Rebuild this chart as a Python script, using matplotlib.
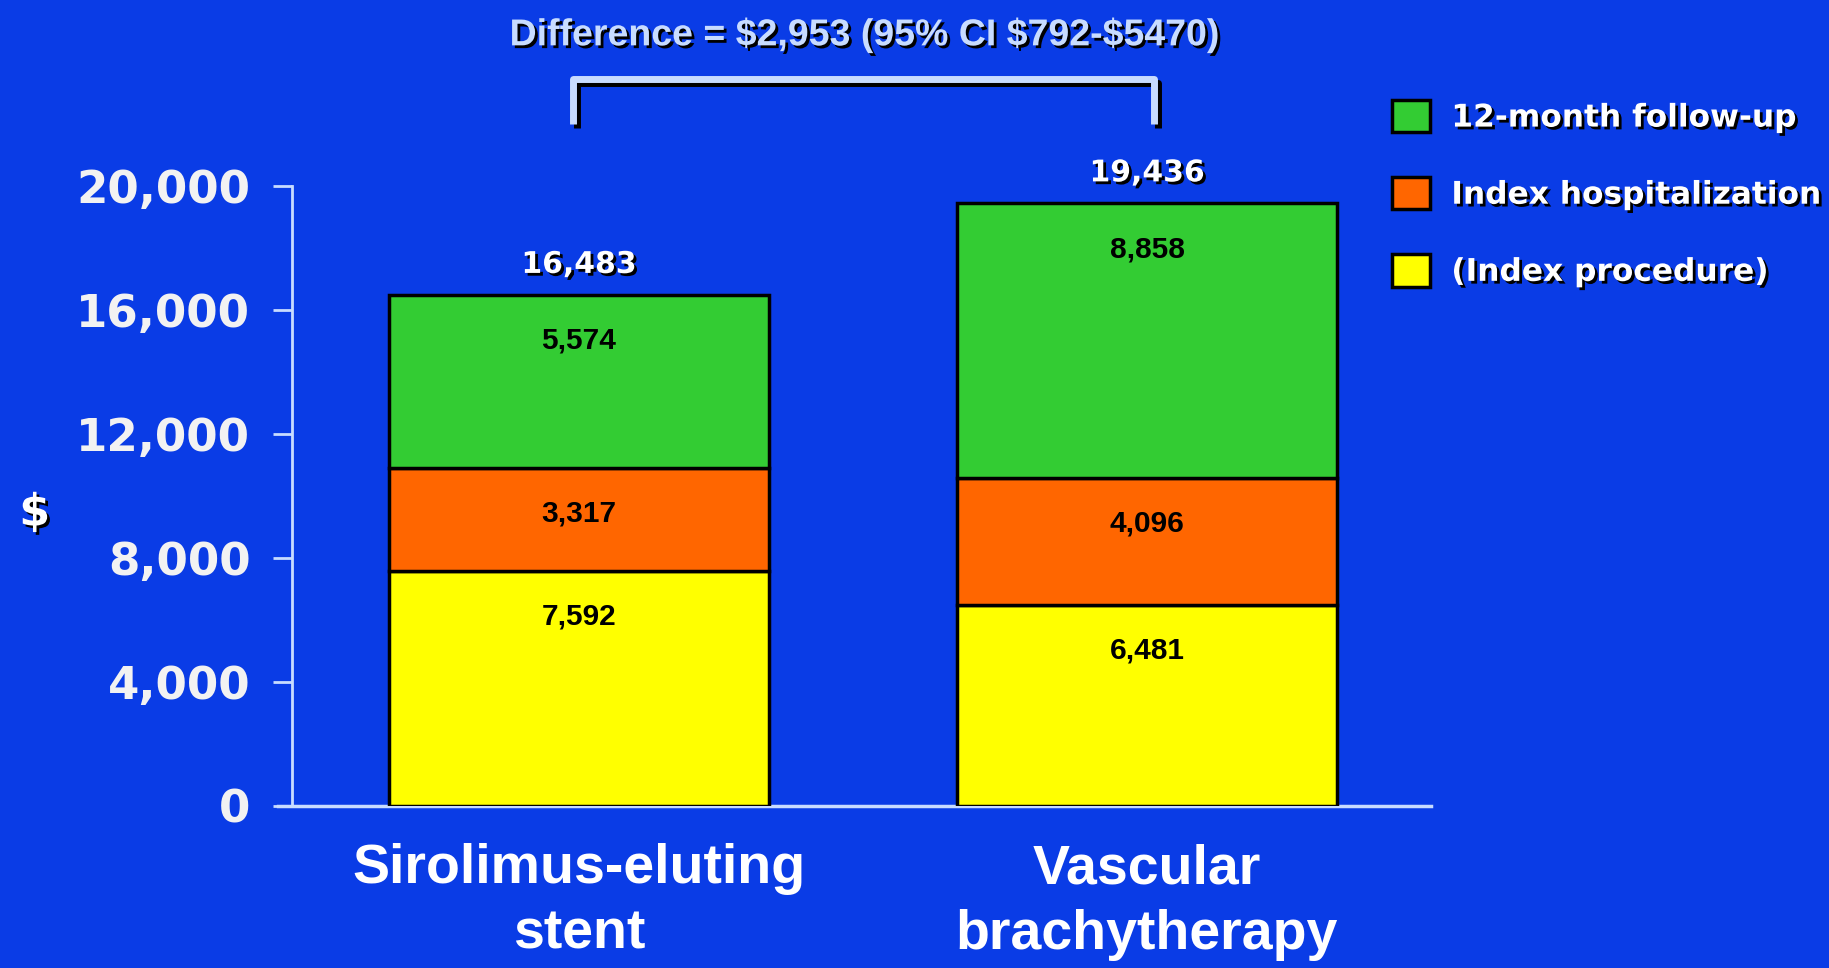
import matplotlib
matplotlib.use("Agg")
import matplotlib.pyplot as plt
import matplotlib.patheffects as pe
from matplotlib.patches import Patch

categories = ["Sirolimus-eluting\nstent", "Vascular\nbrachytherapy"]
index_procedure = [7592, 6481]
index_hosp = [3317, 4096]
followup = [5574, 8858]
totals = [16483, 19436]
series_names = ["(Index procedure)", "Index hospitalization", "12-month follow-up"]
diff_text = "Difference = $2,953 (95% CI $792-$5470)"
yticks = [0, 4000, 8000, 12000, 16000, 20000]

bg = "#0a3ce6"
light = "#c8dcff"
colors = ["#ffff00", "#ff6600", "#33cc33"]

shadow = [pe.withSimplePatchShadow(offset=(2, -2), shadow_rgbFace="black", alpha=1)]

fig = plt.figure(figsize=(18.29, 9.68), dpi=100, facecolor=bg)
ax = fig.add_axes([0.1597, 0.1674, 0.6227, 0.6405], facecolor=bg)

x = [0, 1]
width = 0.67
bottoms = [0, 0]
layers = [index_procedure, index_hosp, followup]
for vals, col, name in zip(layers, colors, series_names):
    ax.bar(x, vals, width, bottom=bottoms, color=col, edgecolor="black",
           linewidth=2.5, label=name, zorder=3)
    for xi, b, v in zip(x, bottoms, vals):
        ax.annotate(f"{v:,}", (xi, b + v), xytext=(0, -33), textcoords="offset points",
                    ha="center", va="center", fontsize=21.5, fontweight="bold",
                    family="Liberation Sans", color="black", zorder=4)
    bottoms = [b + v for b, v in zip(bottoms, vals)]

for xi, t in zip(x, totals):
    ax.annotate(f"{t:,}", (xi, t), xytext=(0, 22), textcoords="offset points",
                ha="center", va="center", fontsize=21.5, fontweight="bold",
                family="DejaVu Sans", color="white", path_effects=shadow)

ax.set_xlim(-0.505, 1.5)
ax.set_ylim(0, 20000)
ax.set_yticks(yticks)
ax.set_yticklabels([f"{v:,}" for v in yticks], fontsize=32.5, fontweight="bold",
                   family="DejaVu Sans", color="#f2f2f2")
ax.tick_params(axis="y", length=14, width=2, color=light, pad=16)
ax.set_xticks(x)
ax.set_xticklabels(categories, fontsize=40, fontweight="bold",
                   family="Liberation Sans", color="white", linespacing=1.33)
ax.tick_params(axis="x", length=0, pad=27)
for s in ["top", "right"]:
    ax.spines[s].set_visible(False)
ax.spines["left"].set_color(light)
ax.spines["left"].set_linewidth(2)
ax.spines["bottom"].set_color(light)
ax.spines["bottom"].set_linewidth(2.5)
ax.spines["bottom"].set_bounds(-0.53, 1.5)

fig.text(0.019, 0.47, "$", fontsize=32, fontweight="bold", color="white",
         family="DejaVu Sans", ha="center", va="center", path_effects=shadow)

# difference bracket
bx = [-0.01, -0.01, 1.012, 1.012]
by = [22000, 23450, 23450, 22000]
ax.plot(bx, by, color=light, linewidth=5, clip_on=False, solid_capstyle="butt",
        path_effects=[pe.SimpleLineShadow(offset=(3, -3), shadow_color="black", alpha=1),
                      pe.Normal()])
fig.text(0.4725, 0.964, diff_text, fontsize=27, fontweight="bold", family="Liberation Sans",
         color=light, ha="center", va="center", path_effects=shadow)

handles = [Patch(facecolor=c, edgecolor="black", linewidth=2.5) for c in colors][::-1]
leg = fig.legend(handles, series_names[::-1], loc="upper left",
                 bbox_to_anchor=(0.7525, 0.913), frameon=False,
                 prop={"family": "DejaVu Sans", "weight": "bold", "size": 22.5},
                 handlelength=1.22, handleheight=1.22, handletextpad=0.68,
                 labelspacing=1.42, borderpad=0)
for t in leg.get_texts():
    t.set_color("white")
    t.set_path_effects(shadow)

fig.savefig("out.png", dpi=100, facecolor=bg)
